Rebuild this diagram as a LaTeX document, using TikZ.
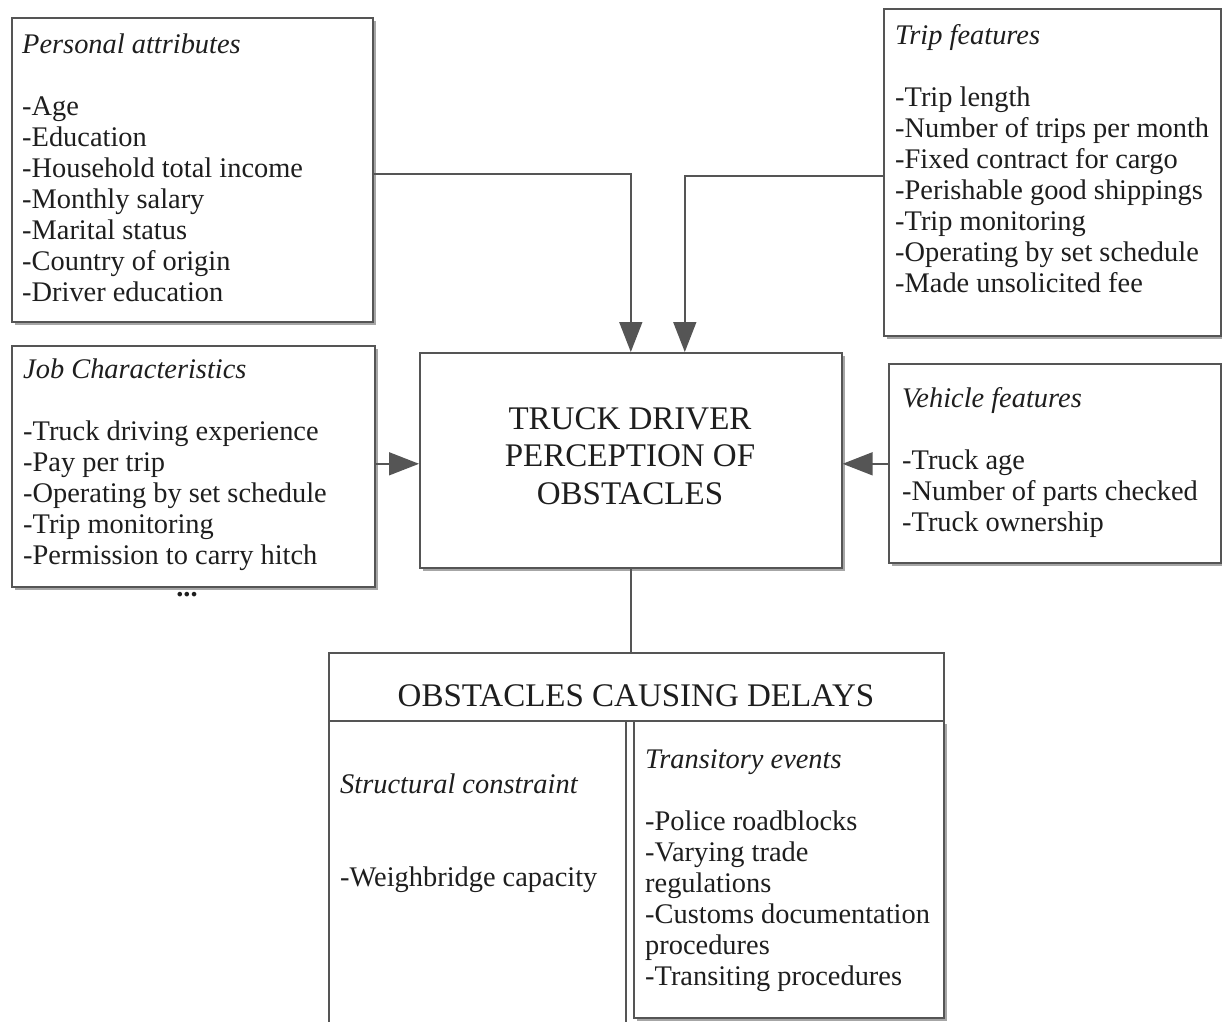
\documentclass[tikz,border=0pt]{standalone}
\usepackage{fontspec}
\setmainfont{Liberation Serif}
\usetikzlibrary{arrows.meta,shadows}
\definecolor{linec}{HTML}{555555}
\definecolor{txtc}{HTML}{1E1E1E}
\tikzset{
 boxbase/.style={draw=linec,line width=1.6pt,fill=white,rectangle,inner sep=0pt,anchor=north west},
 boxs/.style={boxbase,drop shadow={shadow xshift=3pt,shadow yshift=-3pt,opacity=0.35,fill=black}},
 txt/.style={anchor=base west,inner sep=0pt,align=left,text=txtc,font=\fontsize{28.4}{31}\selectfont},
 big/.style={anchor=base,inner sep=0pt,align=center,text=txtc,font=\fontsize{33}{37.5}\selectfont},
 conn/.style={draw=linec,line width=1.6pt},
 arr/.style={conn,-{Triangle[length=30pt,width=23pt]}},
}
\begin{document}
\begin{tikzpicture}[x=1pt,y=-1pt]
\useasboundingbox (0,0) rectangle (1222,1021);
\clip (0,0) rectangle (1222,1021);
% boxes
\node[boxs,minimum width=361pt,minimum height=304pt] (pers) at (11,17) {};
\node[boxs,minimum width=337pt,minimum height=327pt] (trip) at (883,8) {};
\node[boxs,minimum width=363pt,minimum height=241pt] (job) at (11,345) {};
\node[boxs,minimum width=332pt,minimum height=199pt] (veh) at (888,363) {};
\node[boxs,minimum width=422pt,minimum height=215pt] (center) at (419,352) {};
\node[boxbase,minimum width=615pt,minimum height=68pt] (head) at (328,652) {};
\node[boxbase,minimum width=297pt,minimum height=330pt] (struct) at (328,720) {};
\node[boxs,minimum width=310pt,minimum height=297pt] (trans) at (633,720) {};
% texts (anchored at the baseline of the last line)
\node[txt] (tpers) at (22,301) {\textit{Personal attributes}\\[31pt]-Age\\-Education\\-Household total income\\-Monthly salary\\-Marital status\\-Country of origin\\-Driver education};
\node[txt] (ttrip) at (895,292) {\textit{Trip features}\\[31pt]-Trip length\\-Number of trips per month\\-Fixed contract for cargo\\-Perishable good shippings\\-Trip monitoring\\-Operating by set schedule\\-Made unsolicited fee};
\node[txt] (tjob) at (23,564) {\textit{Job Characteristics}\\[31pt]-Truck driving experience\\-Pay per trip\\-Operating by set schedule\\-Trip monitoring\\-Permission to carry hitch};
\node[txt] (tveh) at (902,531) {\textit{Vehicle features}\\[31pt]-Truck age\\-Number of parts checked\\-Truck ownership};
\node[big] (tcenter) at (630,504) {TRUCK DRIVER\\PERCEPTION OF\\OBSTACLES};
\node[big] (thead) at (636,706) {OBSTACLES CAUSING DELAYS};
\node[txt] (tstruct) at (340,886) {\textit{Structural constraint}\\[62pt]-Weighbridge capacity};
\node[txt] (ttrans) at (645,985) {\textit{Transitory events}\\[31pt]-Police roadblocks\\-Varying trade\\regulations\\-Customs documentation\\procedures\\-Transiting procedures};
\node[inner sep=0pt,text=txtc,font=\fontsize{28.4}{31}\selectfont\bfseries] (dots) at (187,595) {...};
% connectors
\draw[arr] ([yshift=-4pt]pers.east) -| (center.north);
\draw[arr] ([yshift=-3.5pt]trip.west) -| ([xshift=54pt]center.north);
\draw[arr] ([yshift=-3.5pt]center.west -| job.east) -- ([yshift=-3.5pt]center.west);
\draw[arr] ([yshift=-3.5pt]center.east -| veh.west) -- ([yshift=-3.5pt]center.east);
\draw[conn] (center.south) -- (center.south |- head.north);
\end{tikzpicture}
\end{document}
